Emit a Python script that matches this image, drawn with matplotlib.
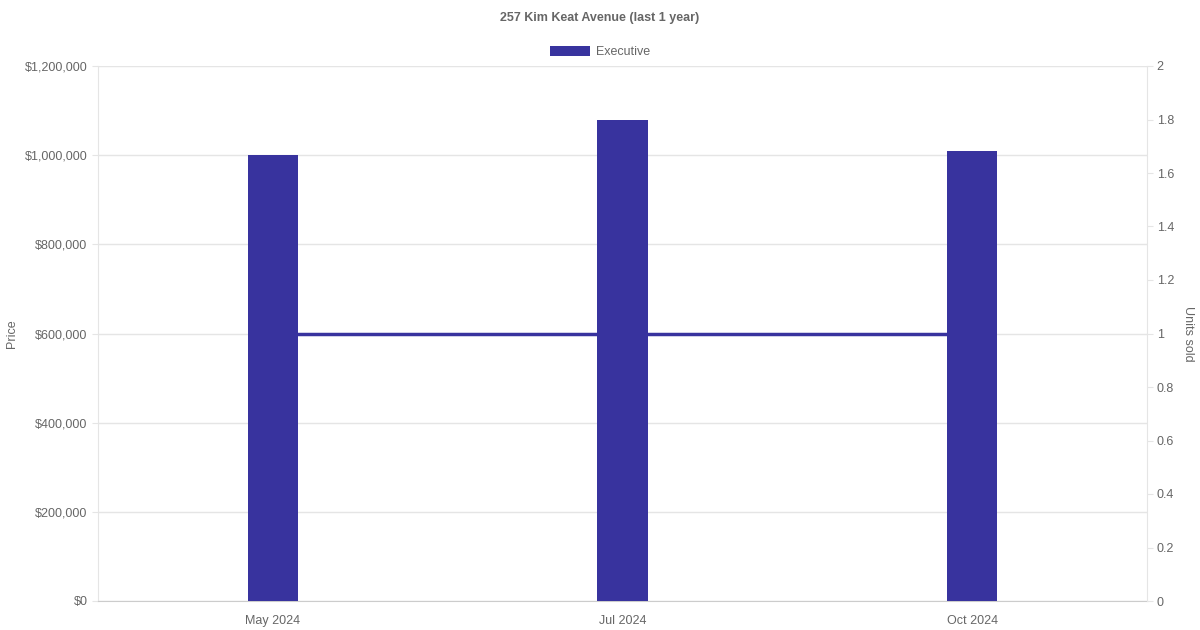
import numpy as np
import matplotlib
matplotlib.use('Agg')
import matplotlib.pyplot as plt
from matplotlib.ticker import FuncFormatter

plt.rcParams['font.family'] = ['Liberation Sans', 'DejaVu Sans']

months = ['May 2024', 'Jul 2024', 'Oct 2024']
prices = [1000000, 1078000, 1009000]
units_sold = [1, 1, 1]
series_name = 'Executive'
title = '257 Kim Keat Avenue (last 1 year)'

bar_color = '#38339e'
text_color = '#666666'
grid_color = '#e5e5e5'

fig = plt.figure(figsize=(12, 6.3), dpi=100)
ax = fig.add_axes([98 / 1200, 29 / 630, 1049 / 1200, 535 / 630])  # price axis, grid
ax2 = ax.twinx()   # units sold line
ax3 = ax.twinx()   # bars on top, same scale as price

x = np.arange(len(months))
ax2.plot(x, units_sold, color=bar_color, linewidth=2.5)
ax3.bar(x, prices, width=0.143, color=bar_color, label=series_name)

ax.set_zorder(0)
ax2.set_zorder(1)
ax3.set_zorder(2)
ax2.patch.set_visible(False)
ax3.patch.set_visible(False)

ax.set_xlim(-0.5, len(months) - 0.5)
ax.set_ylim(0, 1200000)
ax3.set_ylim(0, 1200000)
ax2.set_ylim(0, 2)
ax.set_yticks(np.arange(0, 1200001, 200000))
ax2.set_yticks(np.arange(0, 2.01, 0.2))
ax.yaxis.set_major_formatter(FuncFormatter(lambda v, p: f'${v:,.0f}'))
ax2.yaxis.set_major_formatter(FuncFormatter(lambda v, p: f'{v:g}'))
ax.set_xticks(x)
ax.set_xticklabels(months)
ax3.set_yticks([])

ax.grid(axis='y', color=grid_color, linewidth=1)
for a in (ax, ax2, ax3):
    for s in a.spines.values():
        s.set_visible(False)
ax.spines['left'].set_visible(True)
ax.spines['left'].set_color(grid_color)
ax.spines['bottom'].set_visible(True)
ax.spines['bottom'].set_color('#cccccc')
ax2.spines['right'].set_visible(True)
ax2.spines['right'].set_color(grid_color)

ax.tick_params(axis='y', colors=grid_color, labelcolor=text_color, labelsize=9, length=4.5, pad=3)
ax.tick_params(axis='x', colors=grid_color, labelcolor=text_color, labelsize=9, length=0, pad=10)
ax2.tick_params(axis='y', colors=grid_color, labelcolor=text_color, labelsize=9, length=4.5, pad=2.5)

ax.set_ylabel('Price', color=text_color, fontsize=9)
ax.yaxis.set_label_coords(-0.076, 0.5)
ax2.set_ylabel('Units sold', color=text_color, fontsize=9, rotation=270, va='center')
ax2.yaxis.set_label_coords(1.039, 0.5)

fig.text(0.5, 1 - 18 / 630, title, ha='center', va='center', color=text_color,
         fontsize=9, fontweight='bold')
leg = fig.legend(loc='center', bbox_to_anchor=(0.5, 1 - 52 / 630), frameon=False,
                 fontsize=9, handlelength=3.2, handleheight=0.8, handletextpad=0.5,
                 labelcolor=text_color)

fig.savefig('out.png', dpi=100)
